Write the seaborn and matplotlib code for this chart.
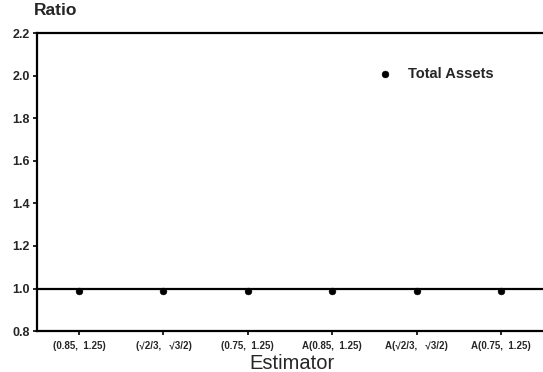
import numpy as np
import pandas as pd
import seaborn as sns
import matplotlib.pyplot as plt

estimators = ['(0.85,  1.25)', '(\u221a2/3,   \u221a3/2)', '(0.75,  1.25)',
              'A(0.85,  1.25)', 'A(\u221a2/3,   \u221a3/2)', 'A(0.75,  1.25)']
ratio = [0.99, 0.99, 0.99, 0.99, 0.99, 0.99]

df = pd.DataFrame({'pos': np.arange(len(estimators)), 'ratio': ratio})

sns.set_style('ticks')
plt.rcParams['font.family'] = ['Liberation Sans', 'DejaVu Sans']

fig = plt.figure(figsize=(5.43, 3.72), dpi=100)
ax = fig.add_axes([0.068, 0.110, 0.94, 0.801])

ax.axhline(1.0, color='black', lw=1.6, zorder=1)
sns.scatterplot(data=df, x='pos', y='ratio', ax=ax, color='black', marker='o',
                s=24, edgecolor='black', label='Total Assets', zorder=3)

ax.set_xlim(-0.5, 5.55)
ax.set_ylim(0.8, 2.2)
ax.set_yticks(np.arange(0.8, 2.21, 0.2))
ax.set_yticklabels([f'{v:.1f}' for v in np.arange(0.8, 2.21, 0.2)],
                   fontsize=9, fontweight='bold')
ax.set_xticks(df['pos'])
ax.set_xticklabels(estimators, fontsize=7, fontweight='bold')
ax.tick_params(axis='both', direction='out', length=3, width=1.2, pad=2, color='black')
ax.tick_params(axis='x', pad=10)
for lab in ax.get_xticklabels():
    lab.set_verticalalignment('baseline')

for side in ['left', 'bottom', 'top']:
    ax.spines[side].set_linewidth(1.6)
    ax.spines[side].set_color('black')
ax.spines['right'].set_visible(False)

ax.set_xlabel('Estimator', fontsize=14.5, va='center', fontweight='medium')
ax.xaxis.set_label_coords(0.5, -0.108)
ax.set_ylabel('')
fig.text(0.063, 0.952, 'Ratio', fontsize=12.5, fontweight='bold', ha='left', va='bottom')

leg = ax.legend(loc='upper left', bbox_to_anchor=(0.627, 0.93), frameon=False,
                fontsize=10.5, handletextpad=0.6, markerscale=1.0)
for t in leg.get_texts():
    t.set_fontweight('bold')

fig.savefig('out.png', dpi=100)
